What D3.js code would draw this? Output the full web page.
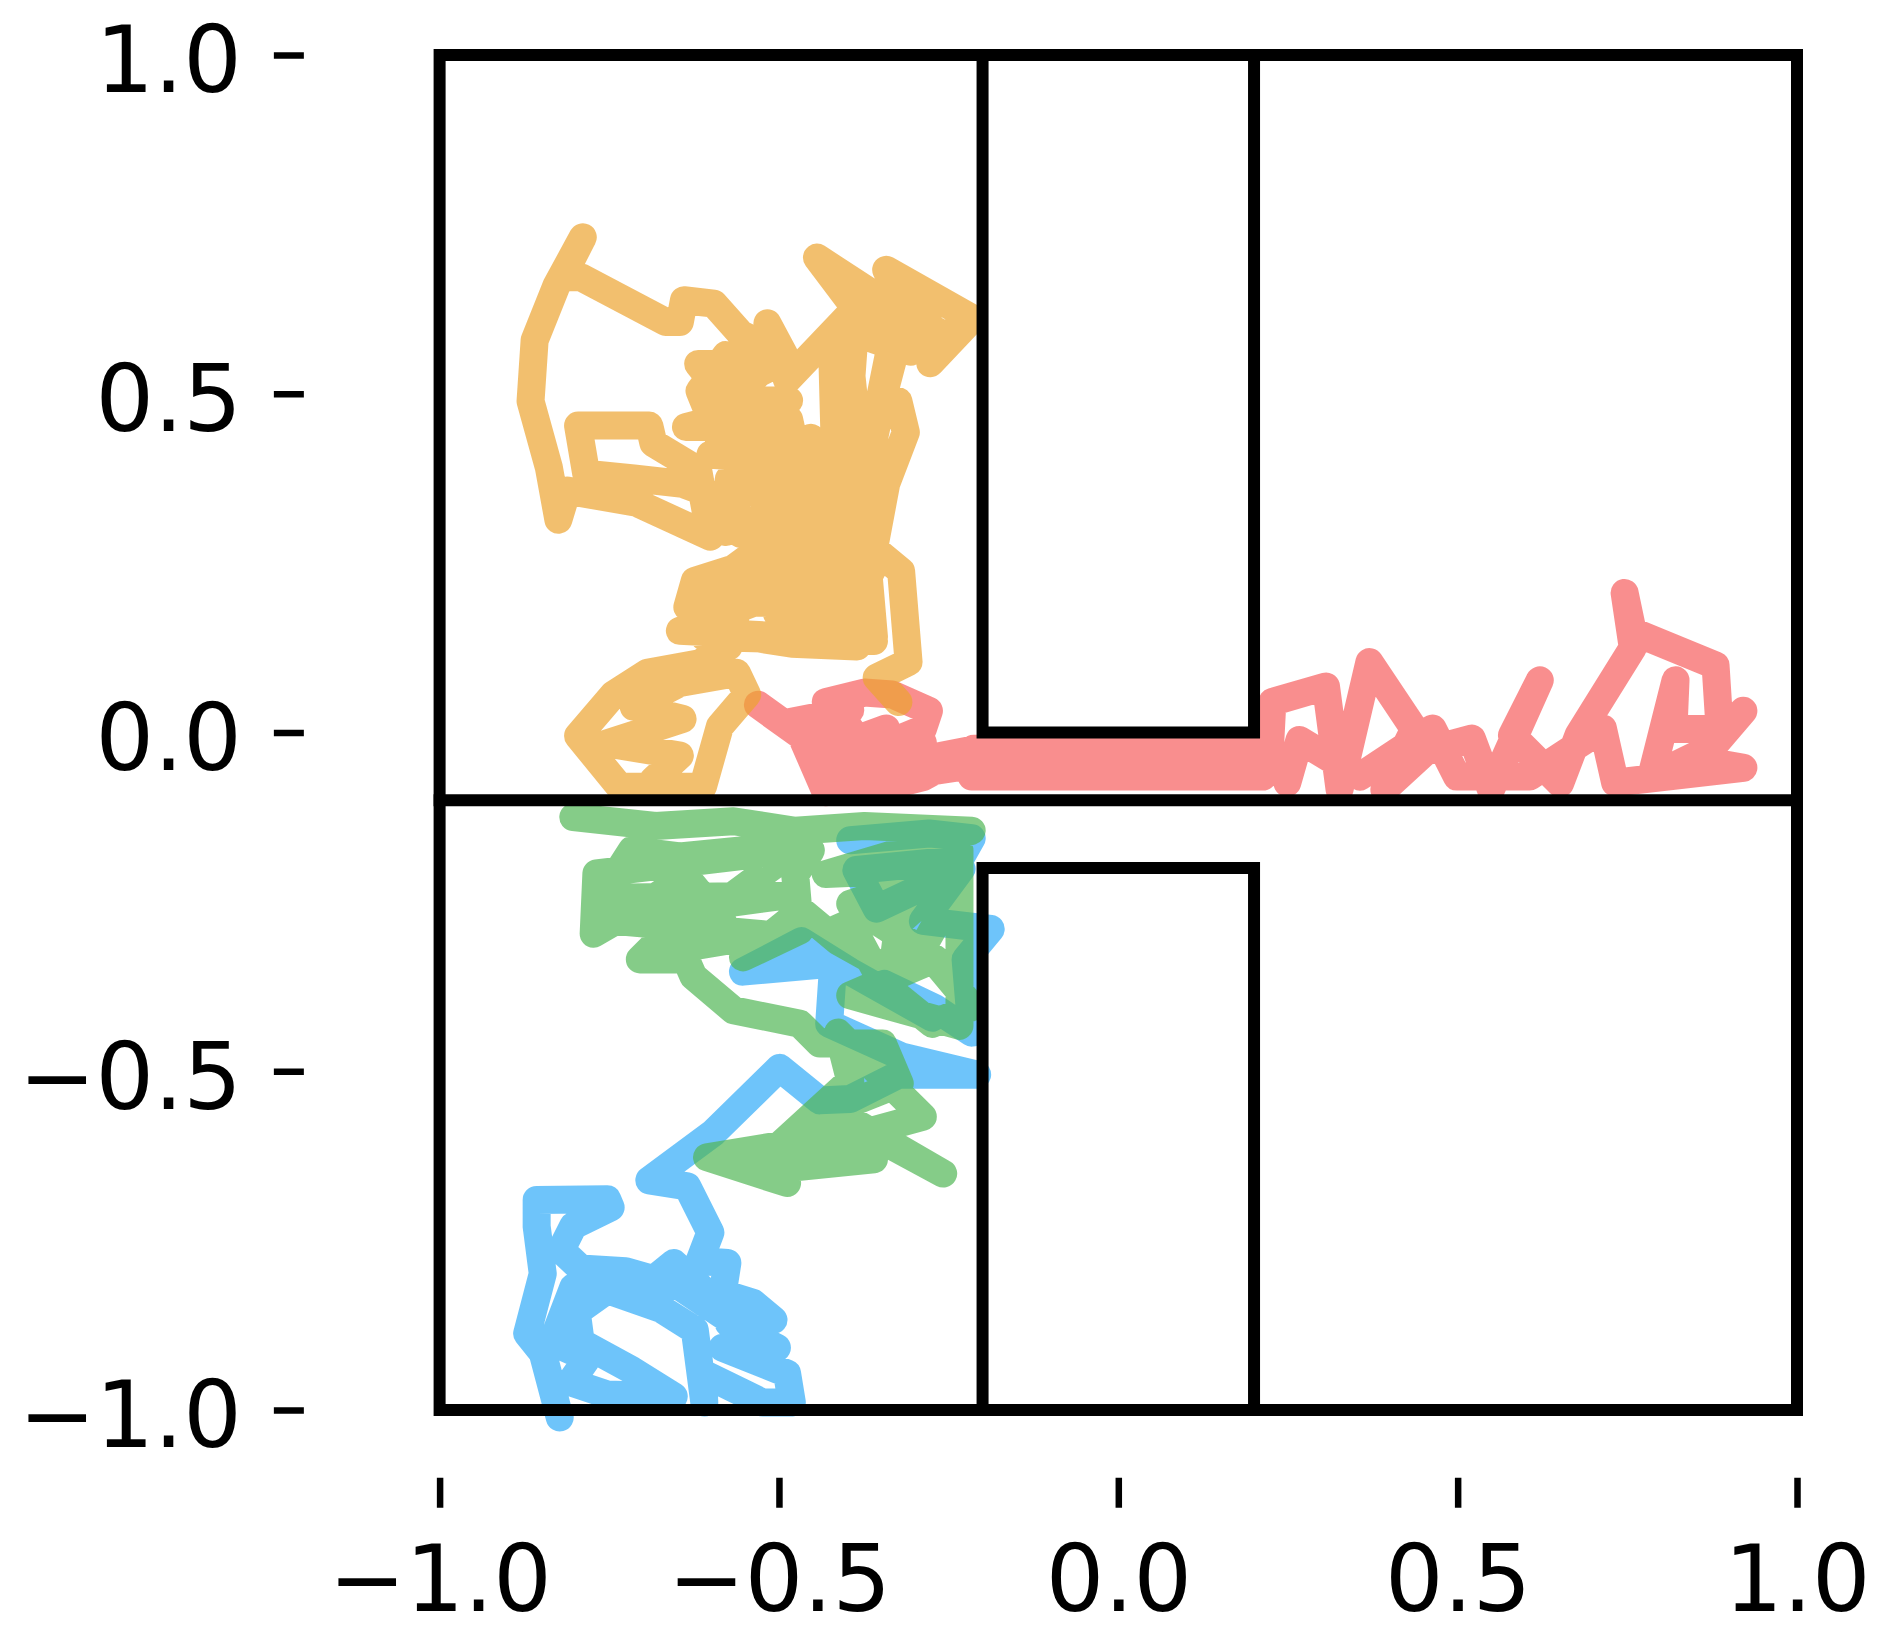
<!DOCTYPE html>
<html>
<head>
<meta charset="utf-8">
<script src="https://cdn.jsdelivr.net/npm/d3@7"></script>
<style>
  body { margin: 0; background: #fff; }
  svg { display: block; }
</style>
</head>
<body>
<svg id="roomsvg" width="1904" height="1642"></svg>
<script>
// tick values shared by both axes
let tickValues = [-1.0, -0.5, 0.0, 0.5, 1.0];

// walls of the two-room layout, each one a polyline in data units
let walls = [
    [[-1, -1], [-1, 1], [1, 1], [1, -1], [-1, -1]],
    [[-1, -0.1], [1, -0.1]],
    [[-0.2, 1], [-0.2, 0], [0.2, 0], [0.2, 1]],
    [[-0.2, -1], [-0.2, -0.2], [0.2, -0.2], [0.2, -1]]
];

// random walk traces
let redPath = [
    [-0.531, 0.041], [-0.467, -0.005], [-0.431, -0.088], [-0.395, 0.005], [-0.431, 0.045],
    [-0.374, 0.059], [-0.333, 0.056], [-0.279, 0.032], [-0.288, 0.005], [-0.395, -0.039],
    [-0.413, -0.081], [-0.315, -0.045], [-0.213, -0.025], [-0.288, -0.066], [-0.360, -0.084],
    [-0.485, 0.015], [-0.395, 0.033], [-0.449, -0.033], [-0.342, 0.006], [-0.404, -0.062],
    [-0.288, -0.015], [-0.351, -0.069], [-0.234, -0.051],
    [-0.213, -0.024], [0.213, -0.024], [0.213, -0.065], [-0.216, -0.065], [-0.100, -0.045],
    [0.222, -0.050],
    [0.227, 0.045], [0.306, 0.068], [0.326, -0.084], [0.370, 0.104], [0.436, 0.005],
    [0.392, -0.084], [0.454, -0.027], [0.521, -0.009], [0.549, -0.084], [0.621, 0.077],
    [0.580, -0.004], [0.651, -0.075], [0.678, -0.004], [0.758, 0.125], [0.746, 0.206],
    [0.758, 0.149], [0.880, 0.099], [0.886, 0.005], [0.818, 0.005], [0.821, 0.077],
    [0.785, -0.066], [0.875, -0.022], [0.921, 0.032], [0.848, -0.039], [0.921, -0.052],
    [0.732, -0.074], [0.714, 0.006], [0.606, -0.065], [0.499, -0.065], [0.463, 0.006],
    [0.356, -0.065], [0.267, -0.011], [0.249, -0.074]
];

let bluePath = [
    [-0.395, -0.159], [-0.279, -0.149], [-0.216, -0.156], [-0.234, -0.188], [-0.386, -0.203],
    [-0.356, -0.260], [-0.231, -0.201], [-0.288, -0.278], [-0.188, -0.290], [-0.225, -0.335],
    [-0.216, -0.443], [-0.270, -0.407], [-0.345, -0.371], [-0.274, -0.421], [-0.395, -0.353],
    [-0.467, -0.308], [-0.553, -0.353], [-0.420, -0.341], [-0.426, -0.430], [-0.320, -0.478],
    [-0.208, -0.505], [-0.324, -0.505], [-0.395, -0.541], [-0.440, -0.543], [-0.499, -0.495],
    [-0.597, -0.591], [-0.691, -0.661], [-0.635, -0.670], [-0.601, -0.738], [-0.617, -0.780],
    [-0.576, -0.783], [-0.583, -0.828], [-0.538, -0.842], [-0.508, -0.867], [-0.574, -0.872],
    [-0.503, -0.908], [-0.583, -0.908], [-0.488, -0.946],
    [-0.481, -0.989], [-0.524, -0.989], [-0.612, -0.946], [-0.610, -0.989], [-0.624, -0.882],
    [-0.673, -0.851], [-0.753, -0.823], [-0.798, -0.855], [-0.792, -0.900], [-0.717, -0.941],
    [-0.655, -0.980], [-0.753, -0.977], [-0.807, -0.959], [-0.782, -0.923], [-0.834, -0.900],
    [-0.803, -0.819], [-0.699, -0.819], [-0.655, -0.783], [-0.538, -0.890], [-0.646, -0.818],
    [-0.726, -0.795], [-0.792, -0.791],
    [-0.821, -0.764], [-0.803, -0.728], [-0.748, -0.701], [-0.753, -0.689], [-0.857, -0.690],
    [-0.857, -0.729], [-0.848, -0.799], [-0.871, -0.887], [-0.848, -0.916], [-0.823, -1.011]
];

let greenPath = [
    [-0.803, -0.125], [-0.682, -0.138], [-0.567, -0.131], [-0.476, -0.145], [-0.374, -0.138],
    [-0.216, -0.145], [-0.431, -0.209], [-0.234, -0.200], [-0.395, -0.253], [-0.270, -0.334],
    [-0.395, -0.388], [-0.234, -0.433],
    [-0.234, -0.174], [-0.324, -0.213], [-0.249, -0.247], [-0.288, -0.317],
    [-0.215, -0.405], [-0.274, -0.430], [-0.347, -0.371], [-0.395, -0.281], [-0.420, -0.292],
    [-0.258, -0.222], [-0.324, -0.281], [-0.333, -0.353], [-0.413, -0.308], [-0.467, -0.263],
    [-0.553, -0.332], [-0.469, -0.292], [-0.476, -0.210], [-0.453, -0.174], [-0.556, -0.174],
    [-0.646, -0.183], [-0.717, -0.174], [-0.762, -0.244], [-0.494, -0.241], [-0.757, -0.277],
    [-0.521, -0.298], [-0.682, -0.325], [-0.476, -0.173],
    [-0.769, -0.208], [-0.773, -0.297], [-0.699, -0.254],
    [-0.637, -0.213], [-0.583, -0.278], [-0.673, -0.303], [-0.705, -0.335], [-0.637, -0.335],
    [-0.626, -0.360], [-0.567, -0.410], [-0.469, -0.430], [-0.440, -0.459], [-0.347, -0.459],
    [-0.322, -0.518], [-0.420, -0.557], [-0.258, -0.651], [-0.395, -0.577], [-0.454, -0.602],
    [-0.606, -0.627], [-0.488, -0.665], [-0.503, -0.613], [-0.395, -0.514], [-0.413, -0.443],
    [-0.288, -0.567], [-0.485, -0.621], [-0.360, -0.630], [-0.538, -0.648]
];

let orangePath = [
    [-0.324, 0.045], [-0.356, 0.081], [-0.309, 0.104], [-0.320, 0.238], [-0.360, 0.271],
    [-0.342, 0.367], [-0.313, 0.443], [-0.324, 0.489], [-0.352, 0.489], [-0.331, 0.593],
    [-0.274, 0.597], [-0.320, 0.638], [-0.342, 0.683], [-0.215, 0.611], [-0.277, 0.545],
    [-0.234, 0.598], [-0.306, 0.562], [-0.360, 0.580],
    [-0.268, 0.593], [-0.327, 0.570], [-0.349, 0.486], [-0.374, 0.367], [-0.365, 0.265],
    [-0.390, 0.400], [-0.394, 0.514], [-0.386, 0.624], [-0.444, 0.701], [-0.369, 0.652],
    [-0.345, 0.612], [-0.395, 0.618],
    [-0.488, 0.520], [-0.517, 0.604], [-0.492, 0.557], [-0.556, 0.588], [-0.596, 0.633],
    [-0.640, 0.638], [-0.646, 0.606], [-0.667, 0.606], [-0.792, 0.672], [-0.819, 0.672],
    [-0.789, 0.731], [-0.828, 0.659], [-0.860, 0.579], [-0.866, 0.489], [-0.839, 0.391],
    [-0.825, 0.314], [-0.812, 0.357], [-0.710, 0.339], [-0.601, 0.289], [-0.619, 0.387],
    [-0.685, 0.427], [-0.691, 0.453], [-0.796, 0.453], [-0.784, 0.382], [-0.714, 0.375],
    [-0.642, 0.367], [-0.574, 0.342], [-0.578, 0.296], [-0.535, 0.471], [-0.503, 0.176],
    [-0.542, 0.511], [-0.467, 0.238], [-0.485, 0.462], [-0.417, 0.149], [-0.453, 0.435],
    [-0.392, 0.163], [-0.413, 0.378], [-0.385, 0.127], [-0.481, 0.131], [-0.571, 0.145],
    [-0.635, 0.185], [-0.624, 0.224], [-0.567, 0.242], [-0.499, 0.292], [-0.571, 0.324],
    [-0.531, 0.400], [-0.592, 0.468], [-0.517, 0.543], [-0.578, 0.557], [-0.617, 0.504],
    [-0.589, 0.435], [-0.524, 0.414], [-0.467, 0.355],
    [-0.619, 0.544], [-0.503, 0.544], [-0.610, 0.490], [-0.485, 0.490], [-0.637, 0.451],
    [-0.503, 0.451], [-0.601, 0.410], [-0.467, 0.401], [-0.574, 0.374], [-0.431, 0.329],
    [-0.556, 0.293], [-0.413, 0.275], [-0.538, 0.239], [-0.395, 0.222], [-0.592, 0.195],
    [-0.413, 0.186], [-0.521, 0.141], [-0.360, 0.141], [-0.395, 0.544], [-0.363, 0.239],
    [-0.422, 0.580], [-0.413, 0.239], [-0.646, 0.150], [-0.360, 0.135], [-0.610, 0.141],
    [-0.574, 0.177],
    [-0.556, 0.206], [-0.574, 0.127],
    [-0.617, 0.102], [-0.694, 0.088], [-0.744, 0.056], [-0.796, -0.005], [-0.735, -0.080],
    [-0.612, -0.080], [-0.587, 0.009], [-0.547, 0.056], [-0.562, 0.088], [-0.646, 0.073],
    [-0.714, 0.038], [-0.642, 0.020], [-0.753, -0.016], [-0.646, -0.034], [-0.685, -0.070]
];

// drawing order and colours of the four walkers
let seriesPaths = [redPath, bluePath, greenPath, orangePath];
let seriesColors = ["#f65e5e", "#30abf8", "#51b655", "#eca430"];

render("#roomsvg");

function render(svg_id) {
    let svg = d3.select(svg_id);

    // equal aspect: one data unit is ~678px both ways
    let x = d3.scaleLinear().domain([-1, 1]).range([439.6, 1797]);
    let y = d3.scaleLinear().domain([-1, 1]).range([1410, 55]);

    let line = d3.line()
        .x(function(d) { return x(d[0]); })
        .y(function(d) { return y(d[1]); });

    // trajectories
    svg.append("g")
        .attr("class", "walks")
        .selectAll("path")
        .data(seriesPaths)
        .enter().append("path")
        .attr("d", line)
        .attr("fill", "none")
        .attr("stroke", function(d, i) { return seriesColors[i]; })
        .attr("stroke-opacity", 0.7)
        .attr("stroke-width", 28)
        .attr("stroke-linecap", "round")
        .attr("stroke-linejoin", "round");

    // walls on top
    svg.append("g")
        .attr("class", "walls")
        .selectAll("path")
        .data(walls)
        .enter().append("path")
        .attr("d", line)
        .attr("fill", "none")
        .attr("stroke", "#000")
        .attr("stroke-width", 12)
        .attr("stroke-linecap", "square")
        .attr("stroke-linejoin", "miter");

    // axes sit outside the room, spines hidden
    let fmt = d3.format(".1f");

    let yAxis = svg.append("g")
        .attr("transform", "translate(" + x(-1.2) + ",0)")
        .call(d3.axisLeft(y).tickValues(tickValues).tickFormat(fmt).tickSize(30).tickPadding(32));

    let xAxis = svg.append("g")
        .attr("transform", "translate(0," + y(-1.1) + ")")
        .call(d3.axisBottom(x).tickValues(tickValues).tickFormat(fmt).tickSize(30).tickPadding(38));

    [xAxis, yAxis].forEach(function(ax) {
        ax.select(".domain").remove();
        ax.selectAll(".tick line").attr("stroke", "#000").attr("stroke-width", 6.5);
        ax.selectAll(".tick text")
            .attr("fill", "#000")
            .style("font-family", "'DejaVu Sans', sans-serif")
            .style("font-size", "92px");
    });
    yAxis.selectAll(".tick text").attr("dy", "0.4em");
}
</script>
</body>
</html>
